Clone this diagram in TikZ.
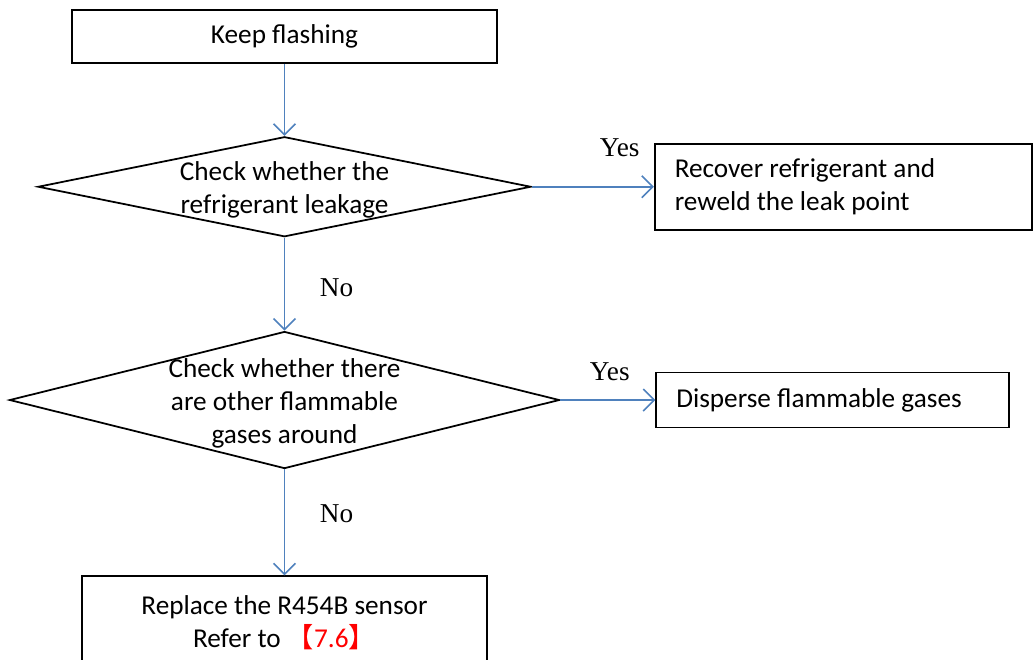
\documentclass[tikz,border=0pt]{standalone}
\usepackage{fontspec}
\usepackage{xcolor}
\setmainfont{Carlito}
\newfontfamily\timesfont{Liberation Serif}
\newfontfamily\cjk{Noto Sans CJK SC}
\usetikzlibrary{positioning, arrows.meta, shapes.geometric}

\definecolor{flowblue}{RGB}{79,129,189}

\begin{document}
\begin{tikzpicture}[
  box/.style={draw, line width=1pt, minimum height=1.1cm, align=center,
              font=\fontsize{15.5}{18.8}\selectfont, inner sep=0pt},
  sidebox/.style={box, align=flush left, inner xsep=0.4cm},
  decision/.style={draw, diamond, line width=1pt, inner sep=0pt,
                   label={[align=center, yshift=-0.07cm,
                           font=\fontsize{15.5}{18.8}\selectfont]center:#1}},
  arr/.style={-{Straight Barb[length=2.2mm, width=4.4mm]}, flowblue, line width=0.9pt},
  answer/.style={text=black, font=\timesfont\fontsize{15.5}{18.8}\selectfont}
]
  \useasboundingbox (0,0) rectangle (20.66,-13.18);

  \node[box, minimum width=8.5cm, minimum height=1.06cm] (flash) at (5.69,-0.73)
    {Keep flashing};
  \node[decision={Check whether the\\refrigerant leakage},
        minimum width=9.86cm, minimum height=2cm, below=1.44cm of flash] (leak) {};
  \node[sidebox, text width=6.74cm, minimum height=1.72cm, right=2.44cm of leak] (recover)
    {Recover refrigerant and\\reweld the leak point};
  \node[decision={Check whether there\\are other flammable\\gases around},
        minimum width=11cm, minimum height=2.74cm, below=1.86cm of leak] (gases) {};
  \node[sidebox, text width=6.26cm, right=1.9cm of gases] (disperse)
    {Disperse flammable gases};
  \node[box, minimum width=8.1cm, minimum height=1.84cm, below=2.12cm of gases] (replace)
    {Replace the R454B sensor\\Refer to {\color{red}{\cjk【}7.6{\cjk】}}};

  \draw[arr] (flash) -- (leak);
  \draw[arr] (leak) -- (recover)
    node[answer, pos=0.72, yshift=0.78cm] {Yes};
  \draw[arr] (leak) -- (gases)
    node[answer, pos=0.54, xshift=1.04cm] {No};
  \draw[arr] (gases) -- (disperse)
    node[answer, pos=0.52, yshift=0.56cm] {Yes};
  \draw[arr] (gases) -- (replace)
    node[answer, pos=0.42, xshift=1.04cm] {No};
\end{tikzpicture}
\end{document}
